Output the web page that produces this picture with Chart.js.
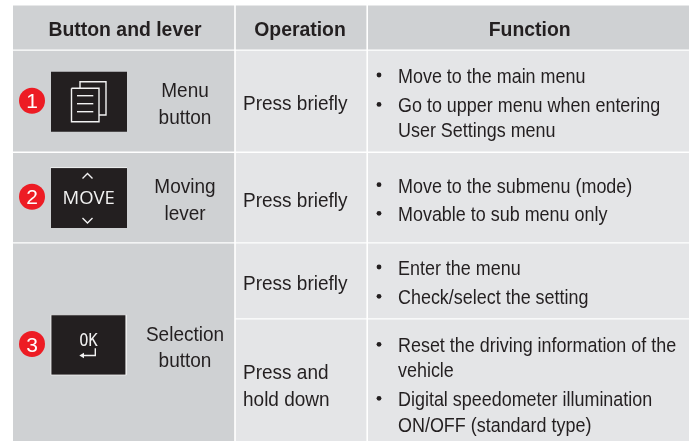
<!DOCTYPE html>
<html>
<head>
<meta charset="utf-8">
<title>Button and lever</title>
<script src="https://cdn.jsdelivr.net/npm/chart.js@4"></script>
<style>
  html, body { margin: 0; padding: 0; background: #fff; }
  canvas { display: block; }
</style>
</head>
<body>
<canvas id="table-chart" width="689" height="441"></canvas>
<script>
// table text
const headers = ['Button and lever', 'Operation', 'Function'];
const controlNames = [['Menu', 'button'], ['Moving', 'lever'], ['Selection', 'button']];
const operations = [['Press briefly'], ['Press briefly'], ['Press briefly'], ['Press and', 'hold down']];
const functions = [
  'Move to the main menu', 'Go to upper menu when entering', 'User Settings menu',
  'Move to the submenu (mode)', 'Movable to sub menu only',
  'Enter the menu', 'Check/select the setting',
  'Reset the driving information of the', 'vehicle',
  'Digital speedometer illumination', 'ON/OFF (standard type)'
];
const badgeNumbers = ['1', '2', '3'];
const moveLabel = 'MOVE';
const okLabel = 'OK';

// table grid
const colLeft = [13, 235.8, 368];
const colRight = [234.2, 366.4, 689];
const rowTop = [5.5, 50.8, 153, 243.6, 319.6];
const rowBottom = [49.6, 151.4, 242.2, 318.3, 441];

// where the text and the control pictures sit
const baselinesFunction = [83, 112.4, 136.7, 192.7, 221.3, 275, 304.3, 352.3, 377, 406.3, 431.7];
const bulletRows = [0, 1, 3, 4, 5, 6, 7, 9];
const baselinesName = [[96.7, 124], [192.7, 220], [341, 367]];
const baselinesOperation = [[110], [206.7], [290], [379, 406]];
const badgeX = [32, 32, 32];
const badgeY = [100.7, 196.7, 344];
const boxes = [[51, 127, 71.7, 131.7], [51, 127, 168, 228], [51, 126.2, 314.8, 375]];

const GREY_DARK = '#cfd1d3';
const GREY_LIGHT = '#e4e5e7';
const INK = '#231f20';
const ICON = '#f2f2f2';

function rect(x0, x1, y0, y1) {
  return [{x: x0, y: y0}, {x: x1, y: y0}, {x: x1, y: y1}, {x: x0, y: y1}, {x: x0, y: y0}];
}
function xy(pairs) {
  return pairs.map(p => ({x: p[0], y: p[1]}));
}
function cell(data, color) {
  return {data, backgroundColor: color, borderWidth: 0, pointRadius: 0, showLine: true, fill: 'shape'};
}
function stroke(pairs, width) {
  return {data: xy(pairs), borderColor: ICON, borderWidth: width || 1.4, pointRadius: 0, showLine: true, fill: false};
}

const layers = [];
// header row
colLeft.forEach((x, i) => layers.push(cell(rect(x, colRight[i], rowTop[0], rowBottom[0]), GREY_DARK)));
// first column
layers.push(cell(rect(colLeft[0], colRight[0], rowTop[1], rowBottom[1]), GREY_DARK));
layers.push(cell(rect(colLeft[0], colRight[0], rowTop[2], rowBottom[2]), GREY_DARK));
layers.push(cell(rect(colLeft[0], colRight[0], rowTop[3], rowBottom[4]), GREY_DARK));
// operation + function columns
for (let r = 1; r < rowTop.length; r++) {
  layers.push(cell(rect(colLeft[1], colRight[1], rowTop[r], rowBottom[r]), GREY_LIGHT));
  layers.push(cell(rect(colLeft[2], colRight[2], rowTop[r], rowBottom[r]), GREY_LIGHT));
}
// control boxes
boxes.forEach(b => layers.push(cell(rect(b[0], b[1], b[2], b[3]), INK)));
// white edges on the MOVE and OK boxes
layers.push(stroke([[50.5, 167.6], [127, 167.6]], 0.9));
layers.push(stroke([[51, 314.8], [126.2, 314.8], [126.2, 375], [51, 375], [51, 314.8]], 0.8));
// menu icon
layers.push(stroke([[71.5, 88.3], [99, 88.3], [99, 121.7], [71.5, 121.7], [71.5, 88.3]]));
layers.push(stroke([[80, 88.3], [80, 81.7], [106, 81.7], [106, 115], [99, 115]]));
layers.push(stroke([[77, 95.7], [93.3, 95.7]]));
layers.push(stroke([[77, 103.7], [93.3, 103.7]]));
layers.push(stroke([[77, 111.7], [93.3, 111.7]]));
// move chevrons
layers.push(stroke([[82.5, 178.5], [87.5, 173.5], [92.5, 178.5]]));
layers.push(stroke([[82.5, 218], [87.5, 223], [92.5, 218]]));
// enter arrow
layers.push(stroke([[95.3, 348.3], [95.3, 355.5], [83, 355.5]]));
layers.push(cell(xy([[79.3, 355.5], [84, 352.8], [84, 358.2], [79.3, 355.5]]), ICON));
// numbered badges
layers.push({
  data: badgeX.map((x, i) => ({x, y: badgeY[i]})),
  showLine: false, pointRadius: 13, pointHoverRadius: 13,
  pointBackgroundColor: '#ed1c24', pointBorderWidth: 0
});
// bullets
layers.push({
  data: bulletRows.map(r => ({x: 379, y: baselinesFunction[r] - 8})),
  showLine: false, pointRadius: 2.4, pointBackgroundColor: INK, pointBorderWidth: 0
});

const tableText = {
  id: 'tableText',
  afterDatasetsDraw(chart) {
    const {ctx, scales} = chart;
    // squeeze narrows the glyphs, the reference type is tall and tight
    const put = (text, x, y, font, squeeze, color, align) => {
      ctx.font = font;
      ctx.fillStyle = color || INK;
      ctx.textAlign = align || 'left';
      ctx.textBaseline = 'alphabetic';
      const w = ctx.measureText(text).width * squeeze;
      ctx.fillText(text, scales.x.getPixelForValue(x), scales.y.getPixelForValue(y), w);
    };
    const BODY = '20.5px "Liberation Sans"';
    const HEAD = 'bold 20px "Liberation Sans"';
    ctx.save();
    [125, 300, 529.7].forEach((x, i) => put(headers[i], x, 36, HEAD, 0.97, INK, 'center'));
    controlNames.forEach((lines, i) => {
      lines.forEach((t, j) => put(t, 185, baselinesName[i][j], BODY, 0.927, INK, 'center'));
    });
    operations.forEach((lines, i) => {
      lines.forEach((t, j) => put(t, 243, baselinesOperation[i][j], BODY, 0.927));
    });
    functions.forEach((t, i) => put(t, 398, baselinesFunction[i], BODY, 0.875));
    badgeNumbers.forEach((t, i) => {
      put(t, badgeX[i], badgeY[i] + 7.5, '21px "Liberation Sans"', 1, '#ffffff', 'center');
    });
    put(moveLabel, 88.7, 204, '500 18.5px "Open Sans"', 1, ICON, 'center');
    put(okLabel, 88.5, 345.7, '17px "DejaVu Sans Mono"', 0.9, ICON, 'center');
    ctx.restore();
  }
};

new Chart(document.getElementById('table-chart'), {
  type: 'scatter',
  data: {datasets: layers.slice().reverse()},
  options: {
    responsive: false,
    animation: false,
    events: [],
    layout: {padding: 0, autoPadding: false},
    plugins: {legend: {display: false}, tooltip: {enabled: false}},
    scales: {
      x: {type: 'linear', min: 0, max: 689, display: false},
      y: {type: 'linear', min: 0, max: 441, reverse: true, display: false}
    }
  },
  plugins: [tableText]
});
</script>
</body>
</html>
